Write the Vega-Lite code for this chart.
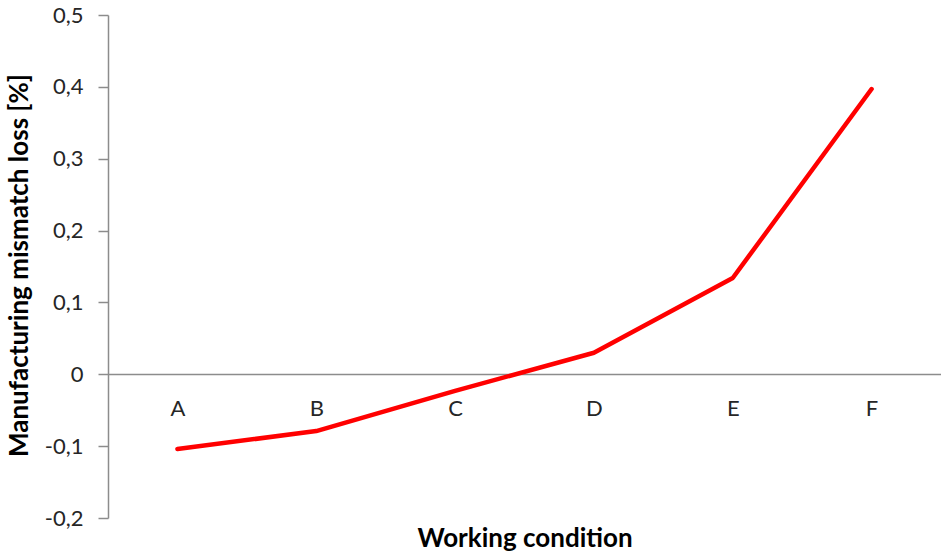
{
  "$schema": "https://vega.github.io/schema/vega-lite/v6.json",
  "width": 833,
  "height": 503,
  "autosize": {"type": "none"},
  "padding": {"left": 108, "top": 15, "right": 0, "bottom": 36},
  "background": "white",
  "config": {
    "view": {"stroke": null},
    "font": "Lato"
  },
  "data": {
    "values": [
      {"condition": "A", "loss": -0.104},
      {"condition": "B", "loss": -0.079},
      {"condition": "C", "loss": -0.023},
      {"condition": "D", "loss": 0.030},
      {"condition": "E", "loss": 0.134},
      {"condition": "F", "loss": 0.397}
    ]
  },
  "mark": {"type": "line", "color": "#ff0000", "strokeWidth": 4.5, "strokeCap": "round", "strokeJoin": "round"},
  "encoding": {
    "x": {
      "field": "condition",
      "type": "nominal",
      "sort": null,
      "scale": {"type": "point", "padding": 0.5},
      "axis": {
        "title": "Working condition",
        "orient": "bottom",
        "offset": -144,
        "labelAngle": 0,
        "ticks": false,
        "domainColor": "#8c8c8c",
        "domainWidth": 1.5,
        "labelPadding": 24,
        "labelFontSize": 22,
        "labelColor": "#262626",
        "labelFont": "Lato",
        "titleFont": "Lato",
        "titleFontSize": 26,
        "titleFontWeight": "bold",
        "titleColor": "#000000",
        "titleBaseline": "alphabetic",
        "titleY": 172
      }
    },
    "y": {
      "field": "loss",
      "type": "quantitative",
      "scale": {"domain": [-0.2, 0.5], "nice": false, "zero": false},
      "axis": {
        "title": "Manufacturing mismatch loss [%]",
        "values": [-0.2, -0.1, 0, 0.1, 0.2, 0.3, 0.4, 0.5],
        "grid": false,
        "domainColor": "#8c8c8c",
        "domainWidth": 1.5,
        "tickColor": "#8c8c8c",
        "tickWidth": 1.5,
        "tickSize": 10,
        "labelPadding": 15,
        "labelFontSize": 22,
        "labelColor": "#262626",
        "labelFont": "Lato",
        "labelExpr": "abs(datum.value) < 1e-9 ? '0' : (datum.value < 0 ? '-' : '') + replace(format(abs(datum.value), '.1f'), '.', ',')",
        "titleFont": "Lato",
        "titleFontSize": 26,
        "titleFontWeight": "bold",
        "titleColor": "#000000",
        "titleAngle": -90,
        "titleBaseline": "alphabetic",
        "titleX": -81,
        "titleY": 250
      }
    }
  }
}
